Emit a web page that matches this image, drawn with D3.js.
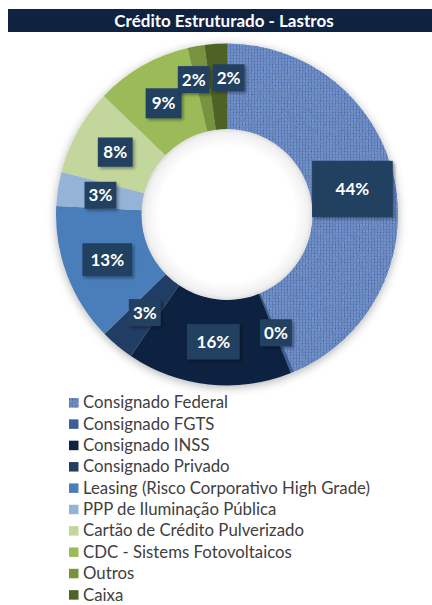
<!DOCTYPE html>
<html>
<head>
<meta charset="utf-8">
<title>Crédito Estruturado - Lastros</title>
<script src="https://cdn.jsdelivr.net/npm/d3@7"></script>
<style>
  body{ margin:0; background:#fff; }
  svg{ display:block; }
  .lbl text{ font: bold 17px Lato, sans-serif; fill:#fff; text-anchor:middle; }
  .legend text{ font: 16.8px Lato, sans-serif; fill:#404040; }
</style>
</head>
<body>
<div id="chart"></div>
<script>
var categories = ["Consignado Federal", "Consignado FGTS", "Consignado INSS", "Consignado Privado",
  "Leasing (Risco Corporativo High Grade)", "PPP de Iluminação Pública", "Cartão de Crédito Pulverizado",
  "CDC - Sistems Fotovoltaicos", "Outros", "Caixa"];
var values = [43.6, 0.3, 15.6, 3.2, 13.1, 3.2, 8.2, 9.1, 1.6, 2.1];
var colors = ["url(#linen)", "#3b5f94", "#10233f", "#243e63", "#4a7ebb", "#95b3d7",
  "#c3d69b", "#9bbb59", "#77933c", "#4f6228"];
var title = "Crédito Estruturado - Lastros";

var width = 432, height = 605;
var cx = 227, cy = 214.5;
var outerR = 171, innerR = 85;

var svg = d3.select("#chart").append("svg")
  .attr("width", width)
  .attr("height", height);

var defs = svg.append("defs");

// woven texture for the big slice
var pat = defs.append("pattern").attr("id", "linen")
  .attr("patternUnits", "userSpaceOnUse").attr("width", 3).attr("height", 3);
pat.append("rect").attr("width", 3).attr("height", 3).attr("fill", "#6789cb");
pat.append("rect").attr("x", 0).attr("width", 1).attr("height", 3).attr("fill", "#3e5d9b").attr("opacity", 0.85);
pat.append("rect").attr("y", 1).attr("width", 3).attr("height", 1).attr("fill", "#9db7e4").attr("opacity", 0.5);

var grain = defs.append("filter").attr("id", "grain").attr("x", 0).attr("y", 0).attr("width", 1).attr("height", 1);
grain.append("feTurbulence").attr("type", "fractalNoise").attr("baseFrequency", "0.2 0.5")
  .attr("numOctaves", 2).attr("seed", 4).attr("result", "noise");
grain.append("feColorMatrix").attr("in", "noise").attr("type", "matrix")
  .attr("values", "0 0 0 0 0.14  0 0 0 0 0.24  0 0 0 0 0.48  0 0 0 -3.2 2.05").attr("result", "dark");
grain.append("feComposite").attr("in", "dark").attr("in2", "SourceGraphic").attr("operator", "in").attr("result", "spots");
var gm = grain.append("feMerge");
gm.append("feMergeNode").attr("in", "SourceGraphic");
gm.append("feMergeNode").attr("in", "spots");

var ringShadow = defs.append("filter").attr("id", "ringShadow")
  .attr("x", "-20%").attr("y", "-20%").attr("width", "140%").attr("height", "140%");
ringShadow.append("feDropShadow").attr("dx", 0).attr("dy", 2).attr("stdDeviation", 5)
  .attr("flood-color", "#000").attr("flood-opacity", 0.3);

var boxShadow = defs.append("filter").attr("id", "boxShadow")
  .attr("x", "-30%").attr("y", "-30%").attr("width", "160%").attr("height", "160%");
boxShadow.append("feDropShadow").attr("dx", 2).attr("dy", 2).attr("stdDeviation", 1.5)
  .attr("flood-color", "#000").attr("flood-opacity", 0.35);

var holeGrad = defs.append("radialGradient").attr("id", "holeGrad");
holeGrad.append("stop").attr("offset", "0.8").attr("stop-color", "#ffffff");
holeGrad.append("stop").attr("offset", "0.95").attr("stop-color", "#f1f1f1");
holeGrad.append("stop").attr("offset", "1").attr("stop-color", "#dedede");

// title bar
svg.append("rect").attr("x", 8).attr("y", 9).attr("width", width - 8).attr("height", 23).attr("fill", "#0f2341");
svg.append("text").attr("x", 224).attr("y", 26.5).attr("text-anchor", "middle")
  .style("font", "bold 17px Lato, sans-serif").style("fill", "#fff").text(title);

// donut
var total = d3.sum(values);
var pie = d3.pie().sort(null).value(function(d){ return d; });
var arc = d3.arc().innerRadius(innerR).outerRadius(outerR);
var arcs = pie(values);

var g = svg.append("g").attr("transform", "translate(" + cx + "," + cy + ")");
var ring = g.append("g").attr("filter", "url(#ringShadow)");
ring.selectAll("path")
  .data(arcs)
  .enter().append("path")
  .attr("d", arc)
  .attr("fill", function(d, i){ return colors[i]; })
  .attr("filter", function(d, i){ return i === 0 ? "url(#grain)" : null; });

g.append("circle").attr("r", innerR + 0.5).attr("fill", "url(#holeGrad)");

// data labels, centred in the band, boxes grow with the slice
var midArc = d3.arc().innerRadius((innerR + outerR) / 2).outerRadius((innerR + outerR) / 2);
var labels = arcs.map(function(d, i){
  var c = midArc.centroid(d);
  var pct = Math.round(d.value / total * 100);
  var extra = Math.max(0, pct - 5);
  return { i: i, x: c[0], y: c[1], text: pct + "%", extra: extra };
});

var lblG = g.selectAll(".lbl").data(labels).enter().append("g").attr("class", "lbl");
lblG.append("text").attr("dy", "0.36em").text(function(d){ return d.text; });
lblG.each(function(d){
  var bb = d3.select(this).select("text").node().getBBox();
  d.w = bb.width + 8 + d.extra;
  d.h = 27 + d.extra * 0.75;
});

// push overlapping neighbours apart and lift them a little
for (var k = 1; k < labels.length; k++) {
  var p = labels[k - 1], q = labels[k];
  var ox = (p.w + q.w) / 2 + 3 - Math.abs(q.x - p.x);
  var oy = (p.h + q.h) / 2 - Math.abs(q.y - p.y);
  if (ox > 0 && oy > 0) {
    var s = q.x >= p.x ? 1 : -1;
    p.x -= s * ox / 2; q.x += s * ox / 2;
    p.y -= 9; q.y -= 9;
  }
}

lblG.attr("transform", function(d){ return "translate(" + d.x + "," + d.y + ")"; });
lblG.insert("rect", "text")
  .attr("x", function(d){ return -d.w / 2; })
  .attr("y", function(d){ return -d.h / 2; })
  .attr("width", function(d){ return d.w; })
  .attr("height", function(d){ return d.h; })
  .attr("fill", "#243f60")
  .attr("filter", "url(#boxShadow)");

// legend
var rowH = 21.35;
var legend = svg.selectAll(".legend")
  .data(categories)
  .enter().append("g")
  .attr("class", "legend")
  .attr("transform", function(d, i){ return "translate(69," + (402.5 + i * rowH) + ")"; });
legend.append("rect")
  .attr("y", -4.5).attr("width", 9.5).attr("height", 9.5)
  .attr("fill", function(d, i){ return colors[i]; })
  .attr("filter", function(d, i){ return i === 0 ? "url(#grain)" : null; });
legend.append("text")
  .attr("x", 14).attr("dy", "0.35em")
  .text(function(d){ return d; });
</script>
</body>
</html>
